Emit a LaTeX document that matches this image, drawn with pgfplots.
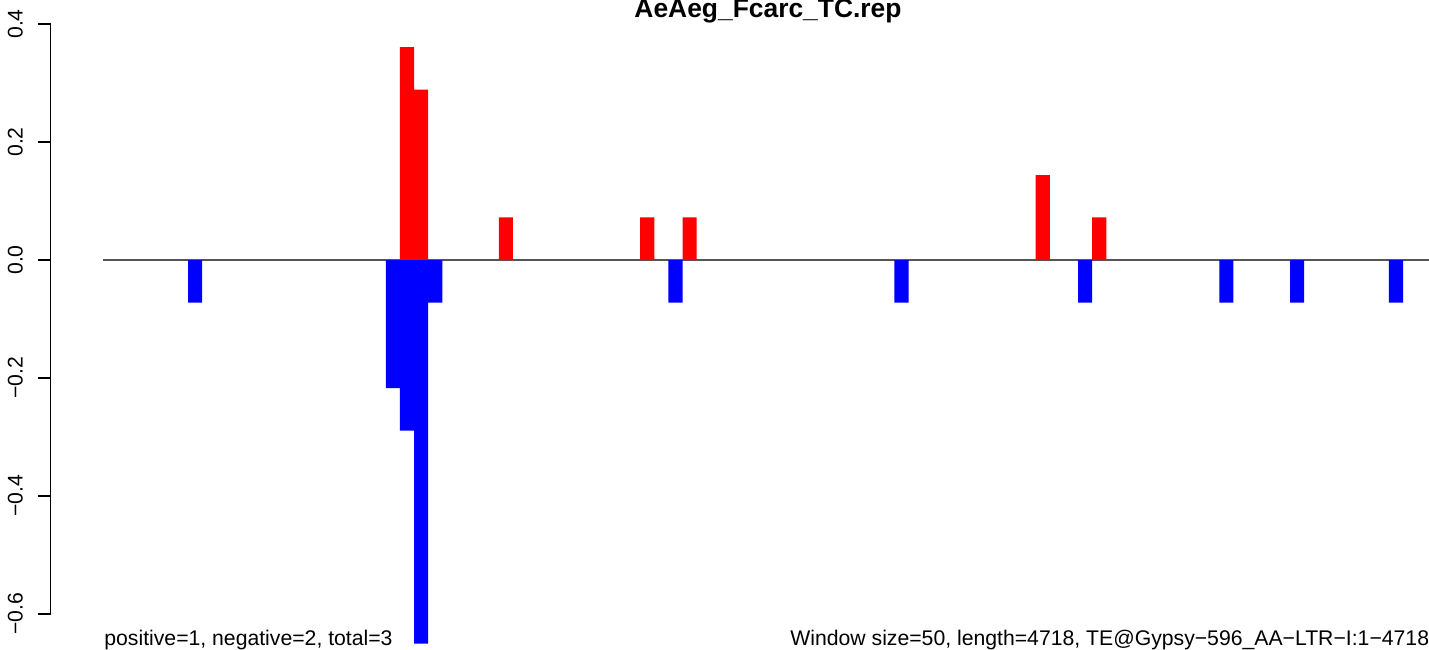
\documentclass[border=0pt]{standalone}
\usepackage{fontspec}
\setmainfont{Liberation Sans}
\usepackage{pgfplots}
\pgfplotsset{compat=1.18}
\definecolor{zeroline}{RGB}{85,85,85}
\begin{document}
\begin{tikzpicture}
\useasboundingbox (0,0) rectangle (714.5pt,324.5pt);
\begin{axis}[at={(0pt,0pt)}, anchor=south west, scale only axis,
  width=714.5pt, height=324.5pt,
  xmin=-7.312, xmax=93.84, ymin=-0.6593, ymax=0.4407,
  hide axis, clip=true]
\addplot[draw=zeroline, line width=0.6pt] coordinates {(0,0) (100,0)};
\addplot[ybar, bar width=1, bar shift=0pt, fill=red, draw=none] coordinates {
(21.5,0.361) (22.5,0.289) (28.5,0.0722) (38.5,0.0722) (41.5,0.0722) (66.5,0.144) (70.5,0.0722)};
\addplot[ybar, bar width=1, bar shift=0pt, fill=blue, draw=none] coordinates {
(6.5,-0.0722) (20.5,-0.217) (21.5,-0.289) (22.5,-0.650) (23.5,-0.0722) (40.5,-0.0722)
(56.5,-0.0722) (69.5,-0.0722) (79.5,-0.0722) (84.5,-0.0722) (91.5,-0.0722)};
\end{axis}
\begin{axis}[at={(25.35pt,17.5pt)}, anchor=south west, scale only axis,
  width=10pt, height=295pt,
  xmin=0, xmax=1, ymin=-0.6, ymax=0.4,
  axis x line=none, axis y line*=left,
  axis line style={-, line width=0.6pt},
  ytick={-0.6,-0.4,-0.2,0,0.2,0.4},
  yticklabels={−0.6,−0.4,−0.2,0.0,0.2,0.4},
  tick align=outside, major tick length=6.5pt,
  tick style={line width=0.6pt, black},
  yticklabel shift=7.5pt,
  yticklabel style={rotate=90, anchor=base, font=\fontsize{10.6}{12}\selectfont}]
\end{axis}
\node[anchor=base, inner sep=0pt, font=\bfseries\fontsize{13.2}{15}\selectfont] at (384pt,315.5pt) {AeAeg\_Fcarc\_TC.rep};
\node[anchor=base west, inner sep=0pt, font=\fontsize{10.6}{12}\selectfont] at (52pt,2pt) {positive=1, negative=2, total=3};
\node[anchor=base west, inner sep=0pt, font=\fontsize{10.6}{12}\selectfont] at (395pt,2pt) {Window size=50, length=4718, TE@Gypsy−596\_AA−LTR−I:1−4718};
\end{tikzpicture}
\end{document}
